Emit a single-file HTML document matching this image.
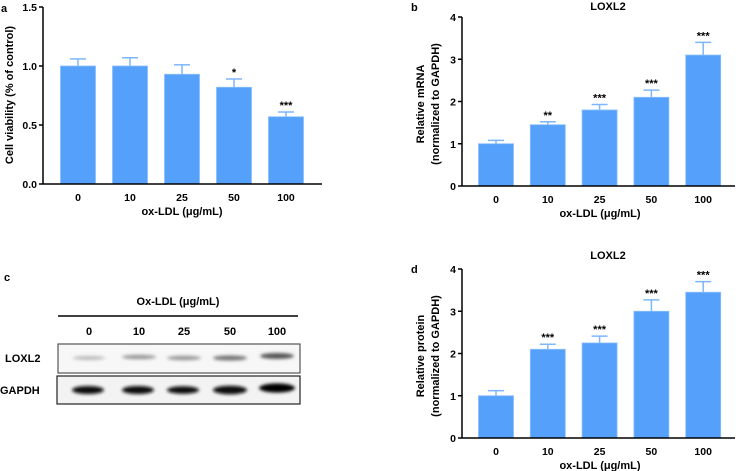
<!DOCTYPE html>
<html><head><meta charset="utf-8"><style>
html,body{margin:0;padding:0;background:#fff;width:740px;height:471px;overflow:hidden}
svg{display:block;font-family:"Liberation Sans",Arial,sans-serif;font-weight:bold}
</style></head><body>
<svg id="fig" width="740" height="471" viewBox="0 0 740 471">
<defs>
<filter id="blur1" x="-20%" y="-100%" width="140%" height="300%"><feGaussianBlur stdDeviation="1.6"/></filter>
</defs>
<g id="western">
<text x="4" y="281" font-size="11">c</text>
<text x="178" y="305" font-size="11" text-anchor="middle">Ox-LDL (μg/mL)</text>
<line x1="58" y1="316" x2="298" y2="316" stroke="#000" stroke-width="1.5"/>
<text x="89" y="335" font-size="11" text-anchor="middle">0</text>
<text x="139" y="335" font-size="11" text-anchor="middle">10</text>
<text x="184" y="335" font-size="11" text-anchor="middle">25</text>
<text x="230" y="335" font-size="11" text-anchor="middle">50</text>
<text x="277" y="335" font-size="11" text-anchor="middle">100</text>
<text x="5" y="362" font-size="11">LOXL2</text>
<text x="0" y="394" font-size="11">GAPDH</text>
<rect x="58" y="344" width="242" height="29" fill="#f7f7f7" stroke="#555" stroke-width="1.2"/>
<rect x="57" y="376" width="243" height="28" fill="#f3f3f3" stroke="#222" stroke-width="1.2"/>
<g filter="url(#blur1)">
<ellipse cx="89" cy="358" rx="16" ry="2" fill="#bbb"/>
<ellipse cx="139" cy="357" rx="17" ry="2.3" fill="#999"/>
<ellipse cx="184" cy="358" rx="17" ry="2.3" fill="#999"/>
<ellipse cx="230" cy="358" rx="17" ry="2.6" fill="#777"/>
<ellipse cx="277" cy="356" rx="17" ry="3" fill="#555"/>
<ellipse cx="88" cy="390" rx="16" ry="4" fill="#111"/>
<ellipse cx="138" cy="390" rx="16" ry="4" fill="#111"/>
<ellipse cx="183" cy="390" rx="16" ry="3.8" fill="#111"/>
<ellipse cx="230" cy="390" rx="17" ry="4.3" fill="#0a0a0a"/>
<ellipse cx="277" cy="388" rx="18" ry="4.6" fill="#000"/>
</g>
</g>
</svg>
<script>
const categories = ["0","10","25","50","100"];
const viabilityValues = [1.0, 1.0, 0.93, 0.82, 0.57];
const viabilityErrors = [0.06, 0.07, 0.08, 0.07, 0.04];
const viabilityStars = ["", "", "", "*", "***"];
const viabilityTicks = ["0.0","0.5","1.0","1.5"];
const mrnaValues = [1.0, 1.45, 1.8, 2.1, 3.1];
const mrnaErrors = [0.08, 0.07, 0.13, 0.17, 0.3];
const mrnaStars = ["", "**", "***", "***", "***"];
const proteinValues = [1.0, 2.1, 2.25, 3.0, 3.45];
const proteinErrors = [0.12, 0.12, 0.16, 0.27, 0.25];
const proteinStars = ["", "***", "***", "***", "***"];
const countTicks = ["0","1","2","3","4"];

const NS = "http://www.w3.org/2000/svg";
const svg = document.getElementById('fig');
function mk(tag, attrs, parent, txt){
  const e = document.createElementNS(NS, tag);
  for (const k in attrs) e.setAttribute(k, attrs[k]);
  if (txt !== undefined) e.textContent = txt;
  parent.appendChild(e); return e;
}
function chart(cfg){
  const g = mk('g', {}, svg);
  
  
  const y = v => cfg.y0 - (v / cfg.max) * (cfg.y0 - cfg.y1);
  const x = i => cfg.x0 + cfg.firstC + i * cfg.step;
  cfg.values.forEach((v, i) => {
    const top = y(v), eTop = y(v + cfg.errors[i]);
    const eb = mk('line', {x1:x(i), x2:x(i), y1:top, y2:eTop, stroke:'#7db6fb', 'stroke-width':1.5}, g);
    
    
    const cap = mk('line', {x1:x(i)-8, x2:x(i)+8, y1:eTop, y2:eTop, stroke:'#7db6fb', 'stroke-width':1.5}, g);
    
    
    const b = mk('rect', {x:x(i)-17.5, y:top, width:35, height:cfg.y0 - top, fill:'#55a0fa', stroke:'#8cc0fc', 'stroke-width':0.8}, g);
    
    
    if (cfg.stars[i]) {
      const s = mk('text', {x:x(i), y:eTop - 3, 'font-size':11, 'text-anchor':'middle'}, g, cfg.stars[i]);
      
      
    }
    const t = mk('text', {x:x(i), y:cfg.y0 + 17, 'font-size':10.5, 'text-anchor':'middle'}, g, categories[i]);
    
    
  });
  const ya = mk('line', {x1:cfg.x0, x2:cfg.x0, y1:cfg.y1, y2:cfg.y0, stroke:'#000', 'stroke-width':1.5}, g);
  
  
  const xa = mk('line', {x1:cfg.x0, x2:cfg.xEnd, y1:cfg.y0, y2:cfg.y0, stroke:'#000', 'stroke-width':1.5}, g);
  
  
  cfg.ticks.forEach(tk => {
    const yy = y(parseFloat(tk));
    const l = mk('line', {x1:cfg.x0-4, x2:cfg.x0, y1:yy, y2:yy, stroke:'#000', 'stroke-width':1.5}, g);
    
    
    const t = mk('text', {x:cfg.x0-6, y:yy+4, 'font-size':10.5, 'text-anchor':'end'}, g, tk);
    
    
  });
  const xt = mk('text', {x:cfg.xTitleX, y:cfg.y0 + 31, 'font-size':11, 'text-anchor':'middle'}, g, 'ox-LDL (μg/mL)');
  
  
  cfg.yTitle.forEach((ln, k) => {
    const yt = mk('text', {x:0, y:0, 'font-size':11, 'text-anchor':'middle', transform:`translate(${cfg.yTitleX + k*15},${cfg.yTitleY}) rotate(-90)`}, g, ln);
    
    
  });
  const pl = mk('text', {x:cfg.labelX, y:cfg.labelY, 'font-size':11}, g, cfg.label);
  
  
  if (cfg.title) {
    const tt = mk('text', {x:cfg.titleX, y:cfg.titleY, 'font-size':11, 'text-anchor':'middle'}, g, cfg.title);
    
    
  }
}
chart({name:'cell-viability-chart', values:viabilityValues, errors:viabilityErrors, stars:viabilityStars, ticks:viabilityTicks,
  max:1.5, x0:43, y0:184, y1:7, xEnd:322, firstC:35, step:52, xTitleX:182,
  yTitle:['Cell viability (% of control)'], yTitleX:13, yTitleY:95, label:'a', labelX:1, labelY:12});
chart({name:'loxl2-mrna-chart', values:mrnaValues, errors:mrnaErrors, stars:mrnaStars, ticks:countTicks,
  max:4, x0:462, y0:186, y1:17, xEnd:735, firstC:34, step:51.8, xTitleX:600,
  yTitle:['Relative mRNA','(normalized to GAPDH)'], yTitleX:424, yTitleY:104, label:'b', labelX:411, labelY:11, title:'LOXL2', titleX:608, titleY:10});
chart({name:'loxl2-protein-chart', values:proteinValues, errors:proteinErrors, stars:proteinStars, ticks:countTicks,
  max:4, x0:462, y0:438, y1:269, xEnd:735, firstC:34, step:51.8, xTitleX:600,
  yTitle:['Relative protein','(normalized to GAPDH)'], yTitleX:424, yTitleY:356, label:'d', labelX:411, labelY:273, title:'LOXL2', titleX:608, titleY:259});
</script>
</body></html>
